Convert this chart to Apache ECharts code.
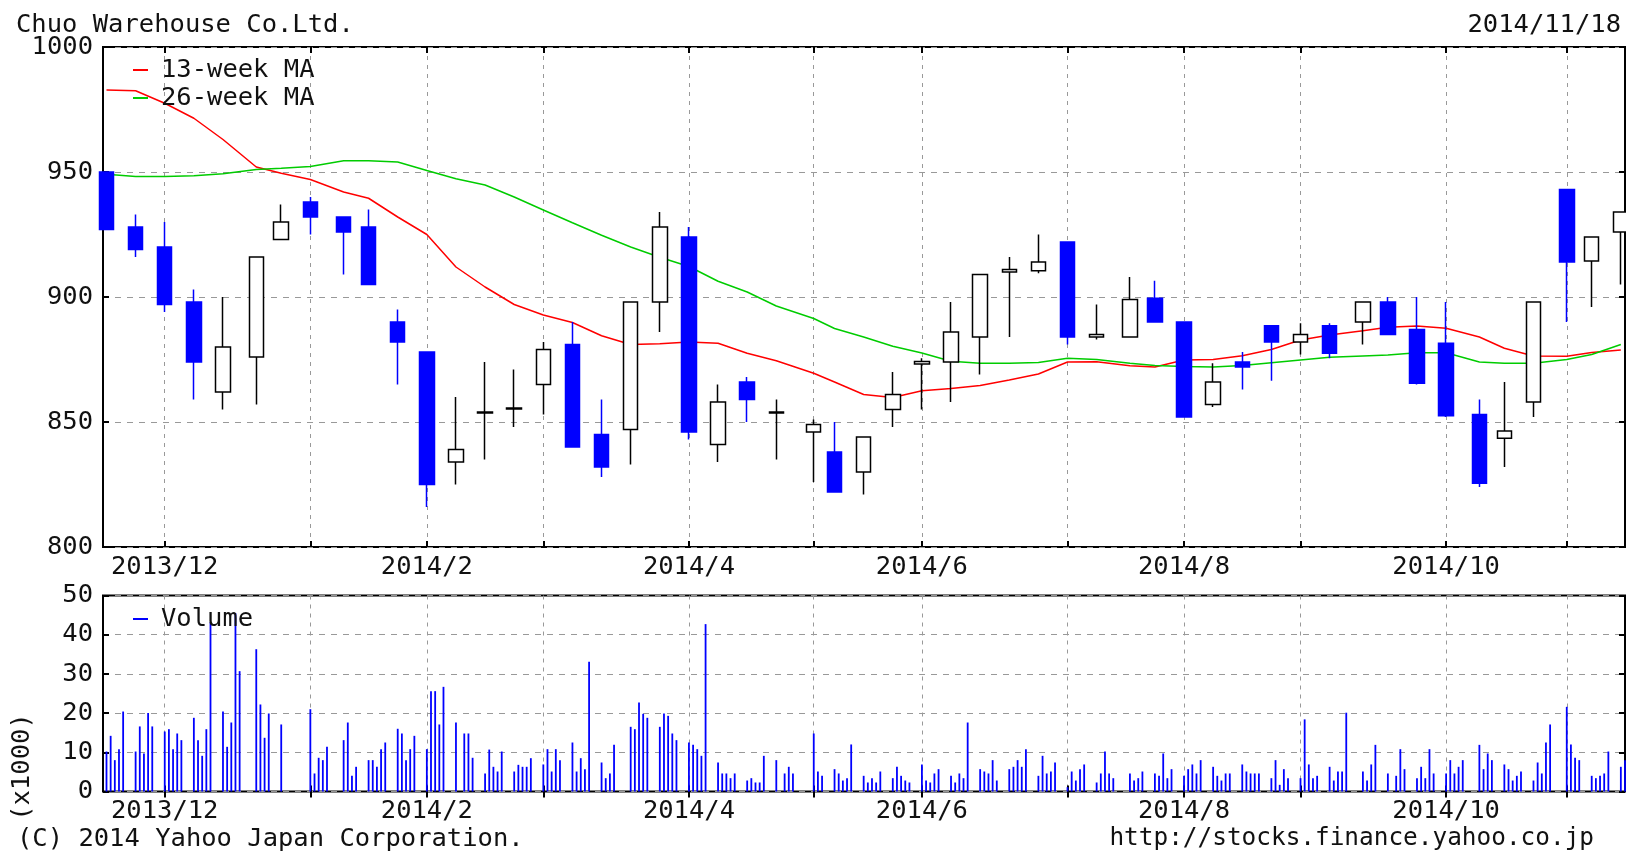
<!DOCTYPE html>
<html>
<head>
<meta charset="utf-8">
<title>Chuo Warehouse Co.Ltd.</title>
<script src="https://cdn.jsdelivr.net/npm/echarts@6/dist/echarts.min.js"></script>
<style>
html, body { margin: 0; padding: 0; background: #fff; }
#chart { width: 1626px; height: 851px; }
</style>
</head>
<body>
<div id="chart"></div>
<script>
// weekly candles (first trading day of each week)
var candleDates = ['2013-11-18','2013-11-25','2013-12-02','2013-12-09','2013-12-16','2013-12-24','2013-12-30',
	'2014-01-06','2014-01-14','2014-01-20','2014-01-27','2014-02-03','2014-02-10','2014-02-17','2014-02-24',
	'2014-03-03','2014-03-10','2014-03-17','2014-03-24','2014-03-31','2014-04-07','2014-04-14','2014-04-21',
	'2014-04-28','2014-05-07','2014-05-12','2014-05-19','2014-05-26','2014-06-02','2014-06-09','2014-06-16',
	'2014-06-23','2014-06-30','2014-07-07','2014-07-14','2014-07-22','2014-07-28','2014-08-04','2014-08-11',
	'2014-08-18','2014-08-25','2014-09-01','2014-09-08','2014-09-16','2014-09-22','2014-09-29','2014-10-06',
	'2014-10-14','2014-10-20','2014-10-27','2014-11-04','2014-11-10','2014-11-17'];
var openPrices = [950,928,920,898,862,876,923,938,932,928,890,878,834,853.6,855.2,865,881,845,847,898,924,841,866,853.6,846,838,830,855,873.2,874,884,910,910.5,922,884,884,899.5,890,857,874,888.5,882,888.5,890,898,887,881.5,853,843.5,858,943,914.4,926];
var closePrices = [927,919,897,874,880,916,930,932,926,905,882,825,839,854,855.6,879,840,832,898,928,846,858,859,854,849,822,844,861,874.2,886,909,911,914,884,885,899,890,852,866,872,882,885,877.5,898,885,865.5,852.5,825.5,846.4,898,914,924,934];
var lowPrices = [927,916,894,859,855,857,923,925,909,905,865,816,825,835,848,853,840,828,833,886,843,834,850,835,826,822,821,848,855,858,869,884,909.5,881,883,884,890,852,856,863,866.5,877,875.5,881,885,865,852,824,832,852,890,896,905];
var highPrices = [950,933,930,903,900,916,937,940,932,935,895,878,860,874,871,882,890,859,898,934,928,865,868,859,851,850,844,870,875.5,898,909,916,925,922,897,908,906.5,890,873.5,878,888.5,889.5,889.5,898,900,900,898,859,866,898,943,924,934];
var ma13 = [982.8,982.5,977.5,971.5,963,952,949.5,947,942,939.5,932,925,912,904,897,892.8,889.8,884.5,881,881.3,882,881.5,877.5,874.5,869.5,866,861,859.8,862.5,863.4,864.6,866.8,869.2,874,874.1,872.5,872,874.8,875,876.5,879,882.8,884.8,886.5,887.9,888.4,887.5,884,879.5,876.4,876.3,877.8,878.8];
var ma26 = [949.1,948.2,948.2,948.5,949.3,951,951.5,952.2,954.5,954.5,954,950.6,947.3,944.8,940,934.8,929.7,924.7,920,915.9,912.2,906.3,902,896.4,891.4,887.4,884,880.3,877.6,874.3,873.5,873.5,873.8,875.5,875,873.5,872.6,872.2,872,872.6,873.7,874.8,875.9,876.4,876.8,877.7,877.7,874,873.5,873.5,875,877,881];

// daily volume (x1000 shares), one list per candle week
var weeklyVolumes = [
	[10.2,14.2,8.0,10.8,20.4],[10.2,16.6,9.7,20.0,16.6],[15.3,15.9,10.8,14.8,13.1],[18.8,13.1,9.1,15.9,43.2],
	[20.4,11.4,17.6,45.5,30.7],[36.3,22.2,13.7,19.9],[17.1],[21.0,4.6,8.6,8.0,11.4],[13.1,17.6,4.0,6.3],
	[8.0,8.0,6.3,10.8,12.5],[16.0,14.8,8.0,10.8,14.2],[10.8,25.6,25.6,17.1,26.7],[17.6,14.8,14.8,8.6],
	[4.6,10.7,6.3,5.1,10.2],[5.1,6.8,6.3,6.3,8.5],[6.9,10.8,5.1,10.8,8.0],[12.5,5.1,8.5,5.7,33.1],
	[7.4,3.4,4.6,11.9],[16.5,15.9,22.7,19.8,18.8],[16.5,19.9,19.3,14.8,13.1],[12.5,11.9,10.8,9.1,42.7],
	[7.4,4.6,4.6,3.4,4.6],[2.8,3.4,2.3,2.3,9.1],[8.0,4.6,6.3,4.6],[14.8,5.1,4.0],[5.7,4.6,2.8,3.4,12.0],
	[4.0,2.3,3.4,2.3,5.1],[3.4,6.3,4.0,2.8,2.3],[6.9,2.8,2.3,4.6,5.7],[4.0,2.3,4.6,3.4,17.6],
	[5.7,5.1,4.6,8.0,2.8],[5.7,6.3,8.0,6.3,10.8],[4.0,9.1,4.6,5.1,7.4],[1.1,5.1,2.8,5.7,6.9],
	[2.3,4.6,10.2,4.6,3.4],[4.6,2.8,3.4,5.1],[4.6,4.0,9.7,3.4,5.7],[4.0,5.7,6.9,4.6,8.0],
	[6.3,4.0,2.8,4.6,4.6],[6.9,5.1,4.6,4.6,4.6],[3.4,8.0,1.7,5.7,3.4],[3.4,18.4,6.9,3.4,4.0],
	[6.3,2.8,5.1,5.1,20.1],[5.1,2.8,6.9,11.9],[4.6,4.0,10.8,5.7],[3.4,6.3,3.4,10.8,4.6],
	[4.6,8.0,4.6,6.3,8.0],[11.9,5.7,9.7,8.0],[6.9,5.7,2.8,4.0,5.1],[2.8,7.4,4.6,12.5,17.1],
	[21.6,12.0,8.6,8.0],[4.0,3.4,4.0,4.6,10.2],[6.3,8.0]
];
var holidays = ['2013-12-23','2013-12-31','2014-01-01','2014-01-02','2014-01-03','2014-01-13','2014-02-11',
	'2014-03-21','2014-04-29','2014-05-05','2014-05-06','2014-07-21','2014-09-15','2014-09-23','2014-10-13','2014-11-03'];

var DAY = 86400000;
var ORIGIN = Date.UTC(2013, 10, 17);
var X_MIN = 0.16, X_MAX = 366;
var FONT = '"DejaVu Sans Mono", monospace';
var FS = 25.5;

function dayNum(s){
	var p = s.split('-');
	return (Date.UTC(+p[0], p[1] - 1, +p[2]) - ORIGIN) / DAY;
}
function isoOf(t){
	return new Date(ORIGIN + t * DAY).toISOString().slice(0, 10);
}
function isOff(t){
	var wd = new Date(ORIGIN + t * DAY).getUTCDay();
	return wd == 0 || wd == 6 || holidays.indexOf(isoOf(t)) >= 0;
}
function monthLabel(v){
	var d = new Date(ORIGIN + Math.round(v) * DAY);
	return d.getUTCFullYear() + '/' + (d.getUTCMonth() + 1);
}

// grid lines sit on the first candle of each month
var monthLines = [];
candleDates.forEach(function(s, i){
	if(i > 0 && s.slice(5, 7) != candleDates[i - 1].slice(5, 7)) monthLines.push(dayNum(s));
});
var monthLabels = monthLines.filter(function(v, i){ return i % 2 == 0; });

var candleData = candleDates.map(function(s, i){
	return [dayNum(s), openPrices[i], closePrices[i], lowPrices[i], highPrices[i]];
});
var ma13Data = candleDates.map(function(s, i){ return [dayNum(s), ma13[i]]; });
var ma26Data = candleDates.map(function(s, i){ return [dayNum(s), ma26[i]]; });

var volumeData = [];
weeklyVolumes.forEach(function(week, i){
	var t = dayNum(candleDates[i]);
	week.forEach(function(v){
		while(isOff(t)) t++;
		volumeData.push([t, v]);
		t++;
	});
});

function xAxisOf(grid, bottom){
	return {
		type: 'value', gridIndex: grid, min: X_MIN, max: X_MAX,
		position: bottom ? 'bottom' : 'top',
		axisLine: { show: false },
		axisTick: { inside: true, length: 6, customValues: monthLines, lineStyle: { color: '#000', width: 2 } },
		axisLabel: bottom ? {
			customValues: monthLabels, formatter: monthLabel, margin: 7,
			fontFamily: FONT, fontSize: FS, color: '#111'
		} : { show: false },
		splitLine: bottom ? { show: true, lineStyle: { color: '#999', width: 1, type: [4, 5] } } : { show: false }
	};
}
function yAxisOf(grid, left, min, max, step){
	return {
		type: 'value', gridIndex: grid, min: min, max: max, interval: step,
		position: left ? 'left' : 'right',
		axisLine: { show: false },
		axisTick: { show: true, inside: true, length: 6, lineStyle: { color: '#000', width: 2 } },
		axisLabel: left ? {
			margin: 10, fontFamily: FONT, fontSize: FS, color: '#111',
			formatter: function(v){ return String(v); }
		} : { show: false },
		splitLine: left ? { show: true, lineStyle: { color: '#999', width: 1, type: [6, 6] } } : { show: false }
	};
}

var chart = echarts.init(document.getElementById('chart'));
var option = {
	animation: false,
	backgroundColor: '#fff',
	textStyle: { fontFamily: FONT },
	grid: [
		{ left: 103, right: 1, top: 47, height: 500, show: true, borderColor: '#000', borderWidth: 2 },
		{ left: 103, right: 1, top: 595.5, height: 196, show: true, borderColor: '#000', borderWidth: 2 }
	],
	xAxis: [xAxisOf(0, true), xAxisOf(0, false), xAxisOf(1, true), xAxisOf(1, false)],
	yAxis: [yAxisOf(0, true, 800, 1000, 50), yAxisOf(0, false, 800, 1000, 50),
		yAxisOf(1, true, 0, 50, 10), yAxisOf(1, false, 0, 50, 10)],
	legend: [
		{
			data: ['13-week MA', '26-week MA'], orient: 'vertical', left: 133, top: 57, padding: 0, itemGap: 2,
			icon: 'rect', itemWidth: 15, itemHeight: 2, selectedMode: false,
			textStyle: { fontFamily: FONT, fontSize: FS, color: '#111', padding: [0, 0, 0, 8] }
		},
		{
			data: ['Volume'], orient: 'vertical', left: 133, top: 606, padding: 0,
			icon: 'rect', itemWidth: 15, itemHeight: 2, selectedMode: false,
			textStyle: { fontFamily: FONT, fontSize: FS, color: '#111', padding: [0, 0, 0, 8] }
		}
	],
	graphic: [
		{ type: 'text', x: 16, y: 25, style: { text: 'Chuo Warehouse Co.Ltd.', font: FS + 'px ' + FONT, fill: '#111', align: 'left', verticalAlign: 'middle' } },
		{ type: 'text', x: 1621, y: 25, style: { text: '2014/11/18', font: FS + 'px ' + FONT, fill: '#111', align: 'right', verticalAlign: 'middle' } },
		{ type: 'text', x: 17, y: 839, style: { text: '(C) 2014 Yahoo Japan Corporation.', font: FS + 'px ' + FONT, fill: '#111', align: 'left', verticalAlign: 'middle' } },
		{ type: 'text', x: 1594, y: 839, style: { text: 'http://stocks.finance.yahoo.co.jp', font: '24.4px ' + FONT, fill: '#111', align: 'right', verticalAlign: 'middle' } },
		{ type: 'text', x: 22, y: 767, rotation: Math.PI / 2, style: { text: '(x1000)', font: FS + 'px ' + FONT, fill: '#111', align: 'center', verticalAlign: 'middle' } }
	],
	series: [
		{
			name: '13-week MA', type: 'line', xAxisIndex: 0, yAxisIndex: 0, data: ma13Data,
			showSymbol: false, color: '#ff0000', lineStyle: { color: '#ff0000', width: 1.5 }, z: 2
		},
		{
			name: '26-week MA', type: 'line', xAxisIndex: 0, yAxisIndex: 0, data: ma26Data,
			showSymbol: false, color: '#00cc00', lineStyle: { color: '#00cc00', width: 1.5 }, z: 2
		},
		{
			name: 'price', type: 'candlestick', xAxisIndex: 0, yAxisIndex: 0, data: candleData,
			barWidth: 15, z: 3,
			itemStyle: { color: '#ffffff', color0: '#0000ff', borderColor: '#000000', borderColor0: '#0000ff', borderWidth: 1.5 }
		},
		{
			name: 'Volume', type: 'bar', xAxisIndex: 2, yAxisIndex: 2, data: volumeData,
			barWidth: 1.8, color: '#0000ff', itemStyle: { color: '#0000ff' }
		}
	]
};
chart.setOption(option);
</script>
</body>
</html>
